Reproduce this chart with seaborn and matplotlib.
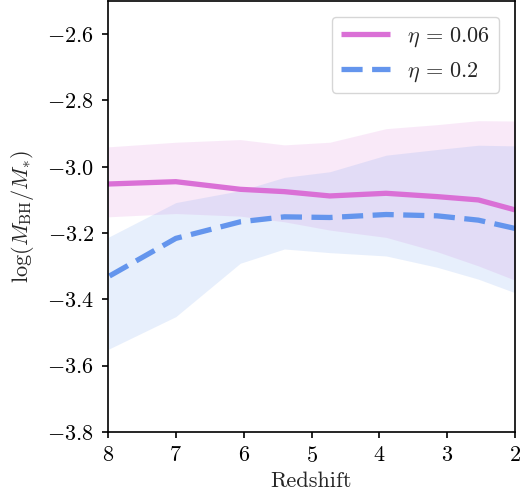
import numpy as np
import pandas as pd
import seaborn as sns
import matplotlib
matplotlib.use("Agg")
import matplotlib.pyplot as plt

# Redshift snapshots
redshift = [8.0, 7.0, 6.05, 5.4, 4.73, 3.9, 3.15, 2.54, 2.0]

# eta = 0.06: median and 16-84 percentile band of log(M_BH/M_*)
eta006_med = [-3.052, -3.045, -3.068, -3.075, -3.088, -3.080, -3.090, -3.100, -3.130]
eta006_hi = [-2.940, -2.926, -2.918, -2.934, -2.926, -2.885, -2.873, -2.861, -2.862]
eta006_lo = [-3.151, -3.141, -3.149, -3.166, -3.191, -3.213, -3.256, -3.299, -3.342]

# eta = 0.2
eta02_med = [-3.332, -3.216, -3.166, -3.151, -3.153, -3.144, -3.148, -3.161, -3.186]
eta02_hi = [-3.213, -3.108, -3.072, -3.032, -3.015, -2.965, -2.948, -2.935, -2.937]
eta02_lo = [-3.551, -3.452, -3.291, -3.248, -3.259, -3.269, -3.303, -3.339, -3.380]

labels = [r"$\eta\,=\,0.06$", r"$\eta\,=\,0.2$"]
colors = ["orchid", "cornflowerblue"]

sns.set_theme(style="ticks")
plt.rcParams.update({
    "font.family": "serif",
    "font.serif": ["cmr10"],
    "mathtext.fontset": "cm",
    "axes.formatter.use_mathtext": True,
    "axes.unicode_minus": True,
    "font.size": 16,
    "xtick.labelsize": 16,
    "ytick.labelsize": 16,
    "axes.linewidth": 1.2,
    "xtick.direction": "out",
    "ytick.direction": "out",
})

df = pd.DataFrame({
    "z": redshift * 2,
    "ratio": eta006_med + eta02_med,
    "model": [labels[0]] * len(redshift) + [labels[1]] * len(redshift),
})

fig = plt.figure(figsize=(5.29, 4.98), dpi=100)
ax = fig.add_axes([108 / 529, 1 - 432 / 498, (515 - 108) / 529, (432 - 1) / 498])

ax.fill_between(redshift, eta006_lo, eta006_hi, color=colors[0], alpha=0.15, lw=0)
ax.fill_between(redshift, eta02_lo, eta02_hi, color=colors[1], alpha=0.15, lw=0)

sns.lineplot(data=df, x="z", y="ratio", hue="model", style="model",
             palette=colors, dashes=[(1, 0), (4.0, 1.8)], linewidth=3.8,
             ax=ax, legend=True)

ax.set_xlim(8, 2)
ax.set_ylim(-3.8, -2.5)
ax.set_xticks([8, 7, 6, 5, 4, 3, 2])
ax.set_yticks([-3.8, -3.6, -3.4, -3.2, -3.0, -2.8, -2.6])
ax.set_xlabel("Redshift", fontsize=16, labelpad=4)
ax.set_ylabel(r"$\log(M_{\rm BH}/M_{*})$", fontsize=16, labelpad=8)
ax.tick_params(length=4, width=1.2, colors="black", pad=6)
for s in ax.spines.values():
    s.set_color("black")

leg = ax.legend(loc="upper right", fontsize=16, title=None, frameon=True,
                handlelength=2.2, borderaxespad=0.7)
leg.get_frame().set_edgecolor("#cccccc")

fig.savefig("out.png", dpi=100)
